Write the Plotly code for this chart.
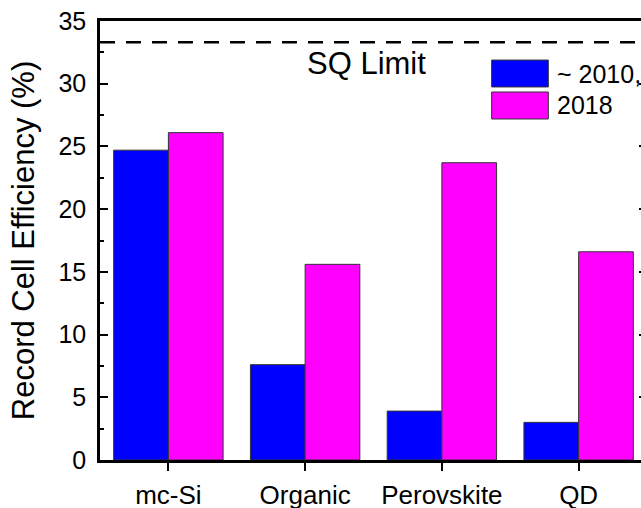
import plotly.graph_objects as go

categories = ["mc-Si", "Organic", "Perovskite", "QD"]
eff_2010 = [24.7, 7.6, 3.9, 3.0]
eff_2018 = [26.1, 15.6, 23.7, 16.6]
series_names = ["~ 2010,", "2018"]
series_colors = ["#0000FF", "#FF00FF"]
sq_limit = 33.3
sq_label = "SQ Limit"
y_title = "Record Cell Efficiency (%)"

FONT = "Liberation Sans, Arial, sans-serif"

fig = go.Figure()
for name, vals, col in zip(series_names, [eff_2010, eff_2018], series_colors):
    fig.add_trace(go.Bar(
        x=categories, y=vals, name=name,
        marker=dict(color=col, line=dict(color="#333333", width=1)),
        showlegend=False,
    ))

# SQ limit dashed line
fig.add_shape(type="line", xref="x domain", yref="y", x0=0, x1=1, y0=sq_limit, y1=sq_limit,
              line=dict(color="black", width=2.5, dash="15px,11px"))
fig.add_annotation(xref="x domain", yref="y", x=0.4876, y=31.6, text=sq_label, showarrow=False,
                   font=dict(family=FONT, size=31, color="black"), xanchor="center", yanchor="middle")

# manual legend boxes
leg_boxes = [(0.911, 0.8497), (0.8383, 0.7768)]
for (yt, yb), name, col in zip(leg_boxes, series_names, series_colors):
    fig.add_shape(type="rect", xref="x domain", yref="y domain", x0=0.716, x1=0.8196, y0=yb, y1=yt,
                  fillcolor=col, line=dict(color="#333333", width=1))
    fig.add_annotation(xref="x domain", yref="y domain", x=0.8325, y=(yt + yb) / 2, text=name,
                       showarrow=False, xanchor="left", yanchor="middle",
                       font=dict(family=FONT, size=25, color="black"))

fig.update_layout(
    width=660, height=508,
    margin=dict(l=100, r=13, t=21, b=48, autoexpand=False),
    paper_bgcolor="white", plot_bgcolor="white",
    barmode="group", bargap=0.2, bargroupgap=0,
    font=dict(family=FONT, size=25, color="black"),
)
fig.update_xaxes(
    range=[-0.5, 3.5], showline=True, linecolor="black", linewidth=2.5, mirror=True,
    ticks="outside", ticklen=8, tickwidth=2, tickcolor="black", showgrid=False, automargin=False,
    tickfont=dict(family=FONT, size=26, color="black"), ticklabelstandoff=2,
)
fig.update_yaxes(
    range=[0, 35], dtick=5, showline=True, linecolor="black", linewidth=2.5, mirror="ticks",
    ticks="inside", ticklen=8, tickwidth=2, tickcolor="black", showgrid=False, zeroline=False,
    minor=dict(dtick=2.5, ticks="inside", ticklen=4, tickwidth=2, tickcolor="black", showgrid=False),
    tickfont=dict(family=FONT, size=25, color="black"), ticklabelstandoff=6, automargin=False,
    title=dict(text=y_title, font=dict(family=FONT, size=31, color="black"), standoff=15),
)

fig.write_html("out.html", config={"displayModeBar": False}, post_script=(
    "document.documentElement.style.overflow='hidden';"
    "document.body.style.overflow='hidden';document.body.style.margin='0';"
))
